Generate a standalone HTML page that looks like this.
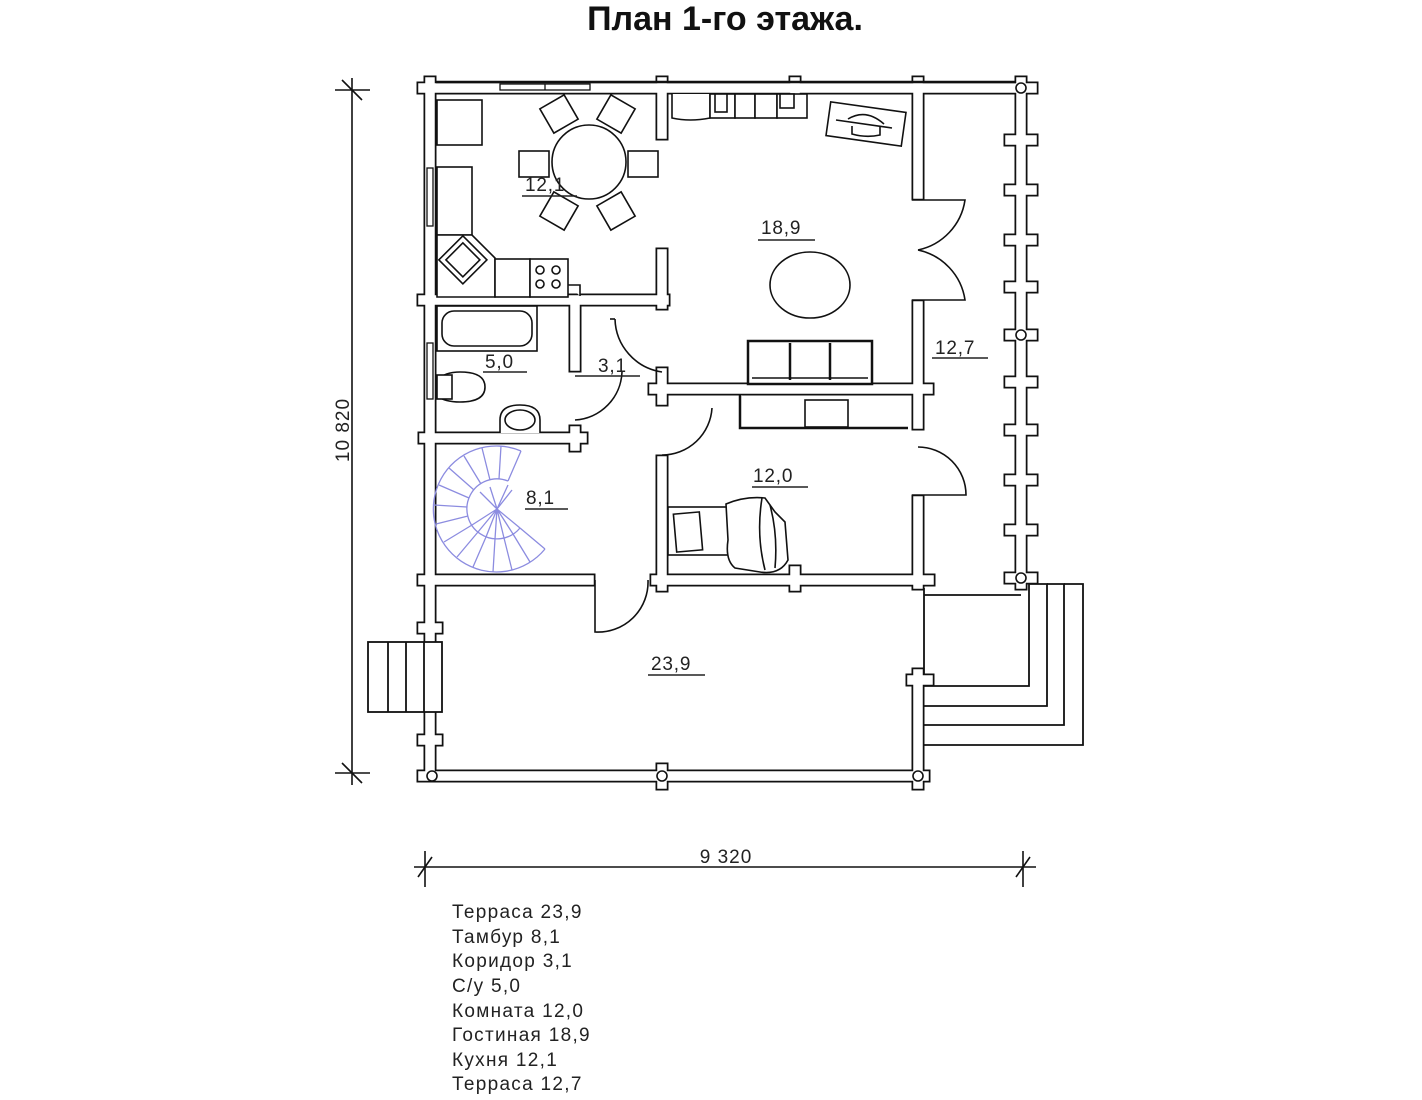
<!DOCTYPE html>
<html><head><meta charset="utf-8"><style>
html,body{margin:0;padding:0;background:#fff;}
svg{display:block;}
text{font-family:"Liberation Sans",Arial,sans-serif;}
</style></head><body>
<svg width="1422" height="1100" viewBox="0 0 1422 1100" xmlns="http://www.w3.org/2000/svg">
<defs>
<path id="wp" d="
M430,88 H1024
M430,82 V776
M423,88 H437
M662,82 V134 M656,88 H668
M795,82 V94
M918,82 V194 M912,88 H924
M1021,82 V584
M424,300 H664 M423,300 H437
M662,254 V304
M575,306 V366 M571,300 H579
M424,438 H582 M575,431 V446
M424,580 H589 M423,580 H437
M656,580 H929 M662,576 V586 M795,571 V586
M654,389 H928 M662,373 V400
M918,306 V424
M662,461 V584
M918,501 V584
M918,686 V784
M423,776 H924 M662,769 V784
M423,628 H437
M423,740 H437
M912,680 H928 M918,674 V686
M1010,88 H1032 M1010,140 H1032 M1010,190 H1032 M1010,240 H1032 M1010,287 H1032 M1010,335 H1032 M1010,382 H1032 M1010,430 H1032 M1010,480 H1032 M1010,530 H1032 M1010,578 H1032
"/>
</defs>
<rect width="1422" height="1100" fill="#fff"/>
<text x="725" y="30" font-size="34" font-weight="bold" text-anchor="middle" fill="#111">План 1-го этажа.</text>

<g stroke="#111" stroke-width="1.6" fill="none">
<line x1="352" y1="78" x2="352" y2="785"/>
<line x1="335" y1="90" x2="370" y2="90"/><line x1="342" y1="80" x2="362" y2="100"/>
<line x1="335" y1="773" x2="370" y2="773"/><line x1="342" y1="763" x2="362" y2="783"/>
<line x1="414" y1="867" x2="1036" y2="867"/>
<line x1="425" y1="851" x2="425" y2="887"/><line x1="418" y1="877" x2="432" y2="857"/>
<line x1="1023" y1="851" x2="1023" y2="887"/><line x1="1016" y1="877" x2="1030" y2="857"/>
</g>
<text x="726" y="863" font-size="19" letter-spacing="1" text-anchor="middle" fill="#222">9 320</text>
<text transform="translate(349,430) rotate(-90)" font-size="19" letter-spacing="1" text-anchor="middle" fill="#222">10 820</text>

<g stroke="#111" stroke-width="1.8" fill="none">
<line x1="924" y1="595" x2="1021" y2="595"/>
<line x1="924" y1="588" x2="924" y2="680"/>
<polyline points="924,686 1029,686 1029,584"/>
<polyline points="924,706 1047,706 1047,584 1029,584"/>
<polyline points="924,725 1064,725 1064,584 1047,584"/>
<polyline points="924,745 1083,745 1083,584 1064,584"/>
</g>

<g fill="none" stroke-linecap="square">
<use href="#wp" stroke="#111" stroke-width="13"/>
<use href="#wp" stroke="#fff" stroke-width="9.5"/>
</g>
<g stroke="#111" stroke-width="2.5"><line x1="436" y1="82" x2="1016" y2="82"/></g>
<g stroke="#111" stroke-width="1.8" fill="#fff">
<rect x="368" y="642" width="74" height="70"/>
<line x1="388" y1="642" x2="388" y2="712"/><line x1="406" y1="642" x2="406" y2="712"/><line x1="424" y1="642" x2="424" y2="712"/>
</g>
<g stroke="#111" stroke-width="1.6" fill="#fff">
<circle cx="1021" cy="88" r="5"/><circle cx="1021" cy="335" r="5"/><circle cx="1021" cy="578" r="5"/>
<circle cx="432" cy="776" r="5"/><circle cx="662" cy="776" r="5"/><circle cx="918" cy="776" r="5"/>
</g>
<g stroke="#111" stroke-width="1.3" fill="#fff">
<rect x="500" y="84" width="90" height="6"/><line x1="545" y1="84" x2="545" y2="90"/>
<rect x="427" y="168" width="6" height="58"/>
<rect x="427" y="343" width="6" height="56"/>
</g>

<g stroke="#111" stroke-width="1.6" fill="none">
<path d="M912,200 H965 A60,60 0 0 1 918,250"/>
<path d="M918,250 A60,60 0 0 1 965,300 H912"/>
<path d="M918,447 A48,48 0 0 1 966,495 H912"/>
<path d="M615,319 A55,55 0 0 0 662,372"/>
<path d="M610,319 H615"/>
<path d="M622,372 A50,50 0 0 1 575,420"/>
<path d="M712,408 A50,50 0 0 1 662,455"/>
<path d="M595,580 V632 A50,50 0 0 0 648,580"/>
</g>

<g stroke="#111" stroke-width="1.6" fill="#fff">
<rect x="437" y="100" width="45" height="45"/>
<rect x="437" y="167" width="35" height="68"/>
<path d="M437,235 H472 L495,258 V297 H437 Z"/>
<rect x="445" y="245" width="34" height="34" transform="rotate(45 465 262)"/>
<rect x="450" y="250" width="24" height="24" transform="rotate(45 465 262)"/>
<rect x="495" y="259" width="35" height="38"/>
<rect x="530" y="259" width="38" height="38"/>
<circle cx="540" cy="270" r="4"/><circle cx="556" cy="270" r="4"/><circle cx="540" cy="284" r="4"/><circle cx="556" cy="284" r="4"/>
<path d="M568,285 H580 V296"/>
<circle cx="589" cy="162" r="37"/>
<rect x="519" y="151" width="30" height="26"/>
<rect x="628" y="151" width="30" height="26"/>
<rect x="545" y="100" width="28" height="28" transform="rotate(-30 559 114)"/>
<rect x="602" y="100" width="28" height="28" transform="rotate(30 616 114)"/>
<rect x="545" y="197" width="28" height="28" transform="rotate(30 559 211)"/>
<rect x="602" y="197" width="28" height="28" transform="rotate(-30 616 211)"/>
</g>

<g stroke="#111" stroke-width="1.6" fill="#fff">
<path d="M672,94 V118 Q690,122 710,118 V94"/>
<rect x="710" y="94" width="25" height="24"/><rect x="715" y="94" width="12" height="18"/>
<rect x="735" y="94" width="20" height="24"/>
<rect x="755" y="94" width="22" height="24"/><rect x="777" y="94" width="30" height="24"/>
<rect x="780" y="94" width="14" height="14"/>
<rect x="828" y="107" width="76" height="34" transform="rotate(8 866 124)"/>
<path d="M836,120 L892,128 M848,119 Q866,108 884,124 M852,126 V134 Q866,138 880,135 V127"/>
<ellipse cx="810" cy="285" rx="40" ry="33"/>
<rect x="748" y="341" width="124" height="43" stroke-width="2.5"/>
<line x1="790" y1="343" x2="790" y2="380" stroke-width="2.5"/><line x1="830" y1="343" x2="830" y2="380" stroke-width="2.5"/>
<line x1="752" y1="378" x2="868" y2="378"/>
<path d="M740,395 V428 H908" stroke-width="2.5"/>
<rect x="805" y="400" width="43" height="27"/>
<rect x="668" y="507" width="65" height="48"/>
<rect x="675" y="513" width="26" height="38" transform="rotate(-5 688 532)"/>
<path d="M726,504 Q745,496 765,498 L775,512 L785,522 L788,560 Q780,575 760,572 L735,568 Q725,560 728,540 Z"/>
<path d="M762,498 Q756,535 765,570 M770,505 Q778,535 775,568"/>
</g>

<g stroke="#111" stroke-width="1.6" fill="#fff">
<rect x="437" y="306" width="100" height="45"/>
<rect x="442" y="311" width="90" height="35" rx="12"/>
<path d="M437,380 Q445,372 460,372 Q485,372 485,387 Q485,402 460,402 Q445,402 437,396"/>
<rect x="437" y="375" width="15" height="24"/>
<path d="M500,433 V420 Q500,405 520,405 Q540,405 540,420 V433"/>
<ellipse cx="520" cy="420" rx="15" ry="10"/>
</g>

<g stroke="#8c8ce0" stroke-width="1.3" fill="none">
<path d="M545,549 A63,63 0 1 1 521,451"/>
<path d="M520,528 A30,30 0 1 1 508,481"/>
<path d="M520,528 L545,549 M513,534 L530,562 M504,538 L512,570 M495,539 L493,572 M486,537 L473,567 M478,532 L457,557 M472,525 L444,542 M468,516 L436,524 M467,507 L434,505 M469,498 L439,485 M474,490 L449,468 M481,484 L464,456 M490,480 L482,448 M499,479 L501,446 M508,481 L521,451"/>
<path d="M497,509 L520,528 M497,509 L513,534 M497,509 L504,538 M497,509 L495,539 M497,509 L486,537 M497,509 L478,532 M497,509 L472,525 M497,509 L508,485 M497,509 L512,490 M497,509 L480,492 M497,509 L490,487"/>
</g>

<g font-size="19" letter-spacing="0.8" fill="#222">
<text x="525" y="191">12,1</text>
<text x="761" y="234">18,9</text>
<text x="935" y="354">12,7</text>
<text x="485" y="368">5,0</text>
<text x="598" y="372">3,1</text>
<text x="753" y="482">12,0</text>
<text x="526" y="504">8,1</text>
<text x="651" y="670">23,9</text>
</g>
<g stroke="#222" stroke-width="1.5">
<line x1="522" y1="196" x2="577" y2="196"/>
<line x1="758" y1="240" x2="815" y2="240"/>
<line x1="932" y1="358" x2="988" y2="358"/>
<line x1="483" y1="372" x2="527" y2="372"/>
<line x1="575" y1="376" x2="640" y2="376"/>
<line x1="752" y1="487" x2="808" y2="487"/>
<line x1="525" y1="509" x2="568" y2="509"/>
<line x1="648" y1="675" x2="705" y2="675"/>
</g>

<g font-size="19" letter-spacing="1.3" fill="#222">
<text x="452" y="918">Терраса 23,9</text>
<text x="452" y="943">Тамбур 8,1</text>
<text x="452" y="967">Коридор 3,1</text>
<text x="452" y="992">С/у 5,0</text>
<text x="452" y="1017">Комната 12,0</text>
<text x="452" y="1041">Гостиная 18,9</text>
<text x="452" y="1066">Кухня 12,1</text>
<text x="452" y="1090">Терраса 12,7</text>
</g>
</svg>
</body></html>
